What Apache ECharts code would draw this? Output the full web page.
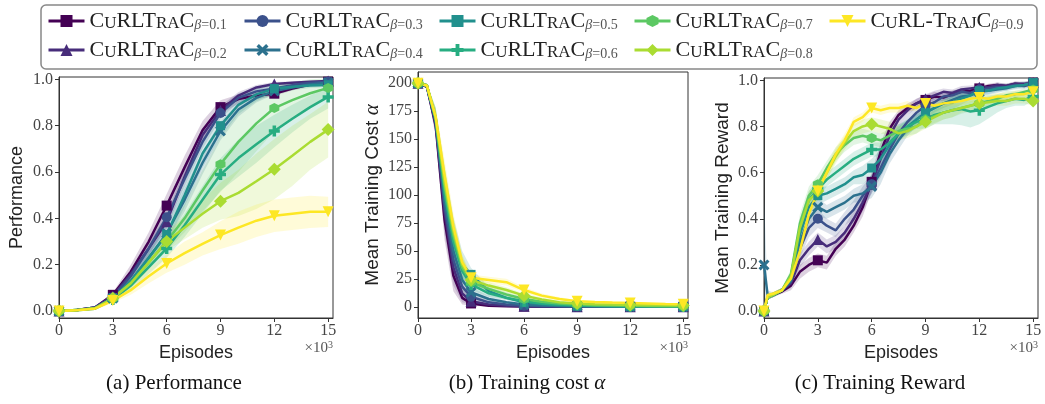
<!DOCTYPE html>
<html><head><meta charset="utf-8">
<script src="https://cdn.jsdelivr.net/npm/echarts@6/dist/echarts.min.js"></script>
<style>html,body{margin:0;padding:0;background:#fff}#c{width:1045px;height:404px}</style>
</head><body><div id="c"></div>
<script>
// ---------------- data ----------------
const betas = ['0.1','0.2','0.3','0.4','0.5','0.6','0.7','0.8','0.9'];
const xTicks = [0,3,6,9,12,15];
const ratioTicks = [0,0.2,0.4,0.6,0.8,1.0];
const costTicks = [0,25,50,75,100,125,150,175,200];

// (a) Performance
const perfX = [0,1,2,3,4,5,6,7,8,9,10,11,12,13,14,15];
const perfB1 = [0,0.005,0.015,0.07,0.17,0.30,0.455,0.62,0.78,0.88,0.915,0.93,0.938,0.96,0.978,0.99];
const perfB2 = [0,0.005,0.015,0.065,0.16,0.27,0.385,0.58,0.76,0.865,0.93,0.965,0.98,0.985,0.99,0.993];
const perfB3 = [0,0.005,0.015,0.06,0.15,0.27,0.405,0.57,0.73,0.855,0.92,0.948,0.96,0.975,0.985,0.99];
const perfB4 = [0,0.004,0.012,0.055,0.13,0.23,0.335,0.48,0.64,0.777,0.87,0.92,0.95,0.965,0.978,0.986];
const perfB5 = [0,0.004,0.012,0.055,0.13,0.23,0.33,0.50,0.68,0.80,0.89,0.935,0.96,0.968,0.973,0.976];
const perfB6 = [0,0.003,0.01,0.05,0.11,0.19,0.27,0.37,0.48,0.589,0.66,0.72,0.777,0.83,0.88,0.924];
const perfB7 = [0,0.004,0.012,0.055,0.12,0.21,0.30,0.40,0.52,0.634,0.73,0.81,0.876,0.91,0.94,0.963];
const perfB8 = [0,0.004,0.012,0.055,0.12,0.21,0.30,0.36,0.42,0.474,0.51,0.56,0.612,0.67,0.73,0.783];
const perfB9 = [0,0.003,0.01,0.045,0.09,0.15,0.205,0.25,0.29,0.328,0.36,0.39,0.411,0.42,0.428,0.428];
const perfS1 = [0,0.002,0.005,0.01,0.03,0.04,0.05,0.05,0.04,0.03,0.02,0.015,0.01,0.008,0.005,0.005];
const perfS2 = [0,0.002,0.005,0.01,0.02,0.03,0.03,0.03,0.03,0.02,0.015,0.01,0.008,0.006,0.005,0.004];
const perfS3 = [0,0.002,0.005,0.01,0.02,0.03,0.035,0.035,0.03,0.025,0.02,0.012,0.01,0.008,0.006,0.005];
const perfS4 = [0,0.002,0.005,0.01,0.02,0.03,0.04,0.05,0.05,0.04,0.03,0.02,0.015,0.01,0.008,0.006];
const perfS5 = [0,0.002,0.005,0.01,0.02,0.03,0.04,0.05,0.06,0.05,0.04,0.03,0.02,0.015,0.01,0.01];
const perfS6 = [0,0.002,0.005,0.01,0.02,0.03,0.04,0.05,0.06,0.07,0.08,0.08,0.07,0.06,0.05,0.05];
const perfS7 = [0,0.002,0.005,0.01,0.02,0.03,0.04,0.06,0.09,0.12,0.13,0.12,0.10,0.08,0.06,0.04];
const perfS8 = [0,0.002,0.005,0.01,0.02,0.03,0.04,0.05,0.06,0.08,0.10,0.12,0.13,0.13,0.12,0.12];
const perfS9 = [0,0.002,0.005,0.01,0.02,0.03,0.04,0.05,0.05,0.06,0.07,0.07,0.07,0.07,0.07,0.065];

// (b) Training cost
const costX = [0,0.5,1,1.5,2,2.5,3,4,5,6,7,8,9,10,11,12,13,14,15];
const costB1 = [200,197,162,78,28,8,3,1,0.5,0.2,0.1,0,0,0,0,0,0,0,0];
const costB2 = [200,197,164,85,35,12,5,2,1,0.5,0.3,0.2,0.1,0,0,0,0,0,0];
const costB3 = [200,197,165,90,42,18,9,4,2,1,0.6,0.4,0.3,0.2,0.1,0,0,0,0];
const costB4 = [200,198,166,95,50,24,13,7,4,2,1.2,0.8,0.5,0.4,0.3,0.2,0.1,0.1,0];
const costB5 = [200,198,168,105,62,38,29,14,8,4,2.5,1.5,1,0.8,0.6,0.4,0.3,0.2,0.2];
const costB6 = [200,198,168,102,58,32,20,12,8,5,3,2,1.3,1,0.8,0.6,0.5,0.4,0.3];
const costB7 = [200,198,169,108,64,35,22,16,11,7,4.5,3,2,1.5,1.2,1,0.8,0.6,0.5];
const costB8 = [200,198,169,112,68,38,24,19,15,10,6.5,4,3,2.4,2,1.7,1.5,1.3,1.2];
const costB9 = [200,198,170,118,72,40,26,24,22,15,10,7,5,4.2,3.8,3.5,3,2.5,2.2];
const costS1 = [0,2,10,18,14,6,2,1,0.5,0.3,0.2,0,0,0,0,0,0,0,0];
const costS2 = [0,2,10,20,16,8,3,1.5,0.8,0.5,0.3,0.2,0.1,0,0,0,0,0,0];
const costS3 = [0,2,10,20,18,10,4,2,1,0.6,0.4,0.3,0.2,0.1,0.1,0,0,0,0];
const costS4 = [0,2,10,20,18,10,5,3,1.5,1,0.6,0.4,0.3,0.2,0.2,0.1,0.1,0.1,0];
const costS5 = [0,2,10,20,18,12,6,4,2,1.5,1,0.6,0.5,0.4,0.3,0.2,0.2,0.1,0.1];
const costS6 = [0,2,10,18,16,10,5,3,2,1.5,1,0.8,0.6,0.5,0.4,0.3,0.3,0.2,0.2];
const costS7 = [0,2,8,16,14,9,5,3,2,1.5,1,0.8,0.6,0.5,0.4,0.4,0.3,0.3,0.2];
const costS8 = [0,2,8,15,12,8,4,3,2.5,2,1.5,1,0.8,0.6,0.5,0.5,0.4,0.4,0.4];
const costS9 = [0,2,8,14,12,7,3,3,3,2.5,2,1.5,1,0.8,0.7,0.6,0.6,0.5,0.5];

// (c) Training reward
const rewX = [0,0.2,0.5,1,1.5,2,2.5,3,3.5,4,4.5,5,5.5,6,6.5,7,7.5,8,8.5,9,9.5,10,10.5,11,11.5,12,12.5,13,13.5,14,14.5,15];
const rewB1 = [0,0.06,0.07,0.085,0.11,0.17,0.2,0.22,0.21,0.27,0.31,0.37,0.45,0.56,0.69,0.79,0.85,0.88,0.9,0.915,0.93,0.925,0.94,0.95,0.955,0.965,0.975,0.98,0.975,0.985,0.98,0.99];
const rewB2 = [0,0.06,0.07,0.09,0.12,0.22,0.27,0.31,0.28,0.3,0.34,0.4,0.47,0.55,0.66,0.76,0.83,0.87,0.9,0.92,0.935,0.95,0.945,0.96,0.965,0.97,0.97,0.98,0.975,0.985,0.985,0.99];
const rewB3 = [0,0.06,0.07,0.09,0.13,0.27,0.36,0.4,0.37,0.35,0.4,0.44,0.5,0.55,0.62,0.7,0.77,0.82,0.86,0.89,0.905,0.93,0.935,0.95,0.945,0.96,0.965,0.97,0.97,0.98,0.975,0.985];
const rewB4 = [0.2,0.07,0.07,0.09,0.13,0.3,0.4,0.45,0.43,0.45,0.47,0.5,0.51,0.54,0.6,0.68,0.74,0.79,0.83,0.86,0.88,0.9,0.915,0.93,0.935,0.95,0.955,0.96,0.965,0.975,0.98,0.99];
const rewB5 = [0,0.06,0.07,0.09,0.14,0.33,0.45,0.5,0.51,0.53,0.55,0.58,0.59,0.62,0.66,0.72,0.77,0.8,0.83,0.86,0.88,0.9,0.905,0.92,0.935,0.955,0.955,0.965,0.97,0.975,0.98,0.99];
const rewB6 = [0,0.06,0.07,0.09,0.15,0.36,0.48,0.53,0.57,0.6,0.63,0.66,0.68,0.7,0.7,0.73,0.77,0.8,0.82,0.83,0.85,0.86,0.87,0.875,0.865,0.87,0.885,0.9,0.91,0.92,0.915,0.93];
const rewB7 = [0,0.06,0.07,0.09,0.16,0.38,0.5,0.55,0.62,0.68,0.72,0.75,0.76,0.75,0.74,0.76,0.78,0.79,0.8,0.83,0.845,0.86,0.87,0.88,0.89,0.9,0.91,0.92,0.935,0.94,0.95,0.96];
const rewB8 = [0,0.06,0.07,0.09,0.15,0.36,0.48,0.52,0.6,0.67,0.73,0.78,0.8,0.81,0.8,0.79,0.77,0.78,0.8,0.82,0.84,0.86,0.87,0.88,0.89,0.9,0.905,0.91,0.91,0.92,0.92,0.91];
const rewB9 = [0,0.07,0.075,0.09,0.14,0.26,0.42,0.52,0.6,0.68,0.74,0.82,0.84,0.88,0.87,0.88,0.88,0.89,0.88,0.9,0.89,0.9,0.905,0.91,0.92,0.925,0.92,0.93,0.93,0.94,0.94,0.95];
const rewS1 = [0,0.01,0.01,0.01,0.02,0.03,0.03,0.03,0.03,0.03,0.03,0.03,0.04,0.04,0.04,0.03,0.02,0.02,0.02,0.02,0.02,0.015,0.015,0.015,0.01,0.01,0.01,0.01,0.01,0.01,0.01,0.01];
const rewS2 = [0,0.01,0.01,0.01,0.02,0.03,0.03,0.03,0.03,0.03,0.03,0.04,0.04,0.04,0.04,0.03,0.03,0.02,0.02,0.02,0.02,0.015,0.015,0.015,0.012,0.01,0.01,0.01,0.01,0.01,0.01,0.01];
const rewS3 = [0,0.01,0.01,0.01,0.02,0.04,0.04,0.04,0.03,0.03,0.03,0.04,0.04,0.04,0.04,0.04,0.03,0.03,0.03,0.02,0.02,0.02,0.02,0.015,0.015,0.015,0.01,0.01,0.01,0.01,0.01,0.01];
const rewS4 = [0.3,0.02,0.01,0.01,0.02,0.04,0.04,0.04,0.03,0.03,0.03,0.03,0.04,0.05,0.05,0.04,0.04,0.03,0.03,0.03,0.02,0.02,0.02,0.02,0.015,0.015,0.015,0.01,0.01,0.01,0.01,0.01];
const rewS5 = [0,0.01,0.01,0.01,0.02,0.04,0.04,0.04,0.03,0.03,0.03,0.03,0.04,0.04,0.04,0.04,0.04,0.03,0.03,0.03,0.03,0.03,0.03,0.025,0.02,0.02,0.02,0.02,0.015,0.015,0.015,0.01];
const rewS6 = [0,0.01,0.01,0.01,0.02,0.04,0.04,0.04,0.03,0.03,0.03,0.03,0.03,0.03,0.03,0.03,0.03,0.03,0.03,0.04,0.04,0.05,0.06,0.07,0.07,0.06,0.05,0.04,0.03,0.03,0.025,0.02];
const rewS7 = [0,0.01,0.01,0.01,0.02,0.04,0.04,0.04,0.03,0.03,0.03,0.03,0.03,0.03,0.03,0.03,0.03,0.03,0.03,0.03,0.03,0.03,0.03,0.025,0.025,0.02,0.02,0.02,0.02,0.015,0.015,0.015];
const rewS8 = [0,0.01,0.01,0.01,0.02,0.04,0.04,0.04,0.03,0.03,0.03,0.03,0.03,0.03,0.03,0.03,0.03,0.03,0.03,0.03,0.03,0.03,0.03,0.02,0.02,0.02,0.02,0.02,0.02,0.02,0.02,0.02];
const rewS9 = [0,0.01,0.01,0.01,0.02,0.04,0.04,0.03,0.03,0.03,0.03,0.02,0.02,0.02,0.02,0.02,0.02,0.02,0.015,0.015,0.015,0.015,0.015,0.015,0.015,0.015,0.015,0.015,0.015,0.015,0.015,0.015];

// ---------------- styles ----------------
const colors = ['#440154','#472c7a','#3b518b','#2c718e','#21908d','#27ad81','#5cc863','#aadc32','#fde725'];
const X_PATH = 'path://M2,0 L5,3 L8,0 L10,2 L7,5 L10,8 L8,10 L5,7 L2,10 L0,8 L3,5 L0,2 Z';
const PLUS_PATH = 'path://M3.4,0 H6.6 V3.4 H10 V6.6 H6.6 V10 H3.4 V6.6 H0 V3.4 H3.4 Z';
const HEX_PATH = 'path://M5,0 L9.33,2.5 L9.33,7.5 L5,10 L0.67,7.5 L0.67,2.5 Z';
const TRI_DOWN = 'path://M0,0 L10,0 L5,8.66 Z';
const symbols = ['rect','triangle','circle',X_PATH,'rect',PLUS_PATH,HEX_PATH,'diamond',TRI_DOWN];
const symbolSizes = [10,11,10,11,9,11,10,13,11];

const SERIF = 'Liberation Serif';
const SANS = 'Liberation Sans';

const plots = [
  {xs: perfX, ys: [perfB1,perfB2,perfB3,perfB4,perfB5,perfB6,perfB7,perfB8,perfB9],
   sp: [perfS1,perfS2,perfS3,perfS4,perfS5,perfS6,perfS7,perfS8,perfS9],
   grid: {left:59, top:77, width:274, height:241}, ymin:-0.03, ymax:1.01, yTicks: ratioTicks,
   yfmt: v => v.toFixed(1), name: 'Performance', nameGap: 33, nameSize: 18},
  {xs: costX, ys: [costB1,costB2,costB3,costB4,costB5,costB6,costB7,costB8,costB9],
   sp: [costS1,costS2,costS3,costS4,costS5,costS6,costS7,costS8,costS9],
   grid: {left:418, top:72, width:270, height:246}, ymin:-10, ymax:210, yTicks: costTicks,
   yfmt: v => String(v), name: 'Mean Training Cost {a|α}', nameGap: 35, nameSize: 19},
  {xs: rewX, ys: [rewB1,rewB2,rewB3,rewB4,rewB5,rewB6,rewB7,rewB8,rewB9],
   sp: [rewS1,rewS2,rewS3,rewS4,rewS5,rewS6,rewS7,rewS8,rewS9],
   grid: {left:764, top:78, width:274, height:240}, ymin:-0.03, ymax:1.01, yTicks: ratioTicks,
   yfmt: v => v.toFixed(1), name: 'Mean Training Reward', nameGap: 32, nameSize: 19}
];

function rgba(hex, a){
  const n = parseInt(hex.slice(1),16);
  return 'rgba(' + ((n>>16)&255) + ',' + ((n>>8)&255) + ',' + (n&255) + ',' + a + ')';
}

const grids = [], xAxes = [], yAxes = [], series = [];
plots.forEach((p, g) => {
  grids.push(Object.assign({show:true, borderColor:'#333', borderWidth:1, backgroundColor:'transparent'}, p.grid));
  xAxes.push({
    type:'value', gridIndex:g, min:0, max:15.27,
    axisLine:{show:true, onZero:false, lineStyle:{color:'#333', width:1}},
    axisTick:{show:true, length:4, customValues:xTicks, lineStyle:{color:'#333'}},
    axisLabel:{customValues:xTicks, fontFamily:SERIF, fontSize:16, color:'#444', margin:5},
    splitLine:{show:false},
    name:'Episodes', nameLocation:'middle', nameGap:21,
    nameTextStyle:{fontFamily:SANS, fontSize:18, color:'#222'}
  });
  yAxes.push({
    type:'value', gridIndex:g, min:p.ymin, max:p.ymax,
    axisLine:{show:true, onZero:false, lineStyle:{color:'#333', width:1}},
    axisTick:{show:true, length:4, customValues:p.yTicks, lineStyle:{color:'#333'}},
    axisLabel:{customValues:p.yTicks, formatter:p.yfmt, fontFamily:SERIF, fontSize:16, color:'#444', margin:6},
    splitLine:{show:false},
    name:p.name, nameLocation:'middle', nameGap:p.nameGap,
    nameTextStyle:{fontFamily:SANS, fontSize:p.nameSize, color:'#222',
      rich:{a:{fontFamily:SERIF, fontStyle:'italic', fontSize:21, color:'#222'}}}
  });
  // bands
  betas.forEach((b, i) => {
    const xs = p.xs, ys = p.ys[i], sp = p.sp[i];
    series.push({
      type:'custom', xAxisIndex:g, yAxisIndex:g, z:1, silent:true, clip:true,
      data:[[xs[0], ys[0]]],
      renderItem:(params, api) => {
        const pts = [];
        for (let k = 0; k < xs.length; k++) pts.push(api.coord([xs[k], ys[k] + sp[k]]));
        for (let k = xs.length - 1; k >= 0; k--) pts.push(api.coord([xs[k], ys[k] - sp[k]]));
        return {type:'polygon', shape:{points:pts}, style:{fill:rgba(colors[i], 0.18)}};
      }
    });
  });
  // lines
  betas.forEach((b, i) => {
    const xs = p.xs, ys = p.ys[i];
    series.push({
      type:'line', name:'b' + b, xAxisIndex:g, yAxisIndex:g, z:2,
      data: xs.map((x, k) => [x, ys[k]]),
      symbol: symbols[i],
      symbolSize: (v) => (v[0] % 3 === 0 ? symbolSizes[i] : 0),
      showSymbol:true, showAllSymbol:true,
      lineStyle:{color:colors[i], width:2.5},
      itemStyle:{color:colors[i]},
      emphasis:{disabled:true}
    });
  });
});

function legendLabel(b){
  if (b === '0.9') return '{c|C}{s|U}{c|RL-T}{s|RAJ}{c|C}{g|β}{n|=' + b + '}';
  return '{c|C}{s|U}{c|RLT}{s|RA}{c|C}{g|β}{n|=' + b + '}';
}
const legendCols = [['0.1','0.2'],['0.3','0.4'],['0.5','0.6'],['0.7','0.8'],['0.9']];
const legendLefts = [47, 243, 438, 633, 828];
const legends = legendCols.map((col, j) => ({
  orient:'vertical', left:legendLefts[j], top:10, padding:0,
  itemWidth:36, itemHeight:15, itemGap:7, selectedMode:false,
  data: col.map(b => 'b' + b),
  formatter: name => legendLabel(name.slice(1)),
  lineStyle:{width:3},
  textStyle:{
    fontFamily:SERIF, color:'#222',
    rich:{
      c:{fontFamily:SERIF, fontSize:22, lineHeight:22, verticalAlign:'bottom', color:'#222'},
      s:{fontFamily:SERIF, fontSize:17, lineHeight:19, verticalAlign:'bottom', color:'#222'},
      g:{fontFamily:SERIF, fontStyle:'italic', fontSize:14, lineHeight:12, verticalAlign:'bottom', color:'#555'},
      n:{fontFamily:SERIF, fontSize:14, lineHeight:12, verticalAlign:'bottom', color:'#555'}
    }
  }
}));

const graphics = [
  {type:'rect', shape:{x:41, y:5, width:996, height:64, r:5}, style:{fill:'none', stroke:'#888', lineWidth:1.5}, z:-1}
];
plots.forEach(p => {
  graphics.push({type:'text', x:p.grid.left + p.grid.width, y:348,
    style:{text:'×10{s|3}', textAlign:'right', textVerticalAlign:'middle', verticalAlign:'middle',
      fontFamily:SERIF, fontSize:15, fill:'#555',
      rich:{s:{fontFamily:SERIF, fontSize:10, lineHeight:10, verticalAlign:'top', fill:'#555'}}}});
});
const captions = [['(a) Performance', 174], ['(b) Training cost {a|α}', 527], ['(c) Training Reward', 880]];
captions.forEach(c => {
  graphics.push({type:'text', x:c[1], y:383,
    style:{text:c[0], textAlign:'center', textVerticalAlign:'middle', verticalAlign:'middle',
      fontFamily:SERIF, fontSize:21, fill:'#111',
      rich:{a:{fontFamily:SERIF, fontStyle:'italic', fontSize:21, fill:'#111'}}}});
});

const chart = echarts.init(document.getElementById('c'), null, {renderer:'canvas'});
chart.setOption({
  animation:false,
  backgroundColor:'#fff',
  grid:grids, xAxis:xAxes, yAxis:yAxes,
  legend:legends,
  graphic:graphics,
  series:series
});
</script>
</body></html>
